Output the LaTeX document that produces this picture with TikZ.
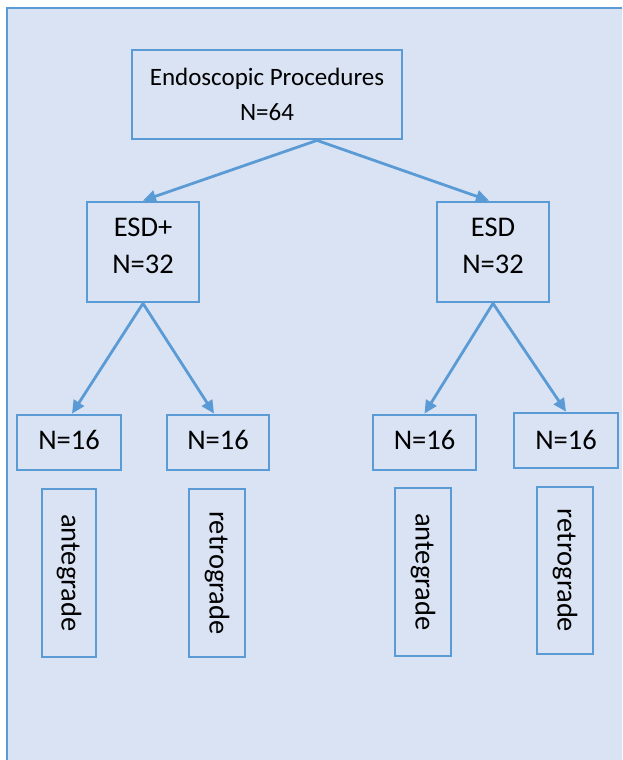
\documentclass[tikz,border=0pt]{standalone}
\usepackage{fontspec}
\setmainfont{Carlito}
\usetikzlibrary{arrows.meta,calc}
\definecolor{edgeblue}{RGB}{91,155,213}
\definecolor{panelbg}{RGB}{218,227,243}
\newcommand{\twolines}[3]{\raisebox{#1}[0pt][0pt]{\begin{tabular}{@{}c@{}}#2\\#3\end{tabular}}}
\newcommand{\oneline}[2]{\raisebox{#1}[0pt][0pt]{#2}}
\begin{document}
\begin{tikzpicture}[x=1pt,y=-1pt,
  box/.style={draw=edgeblue,line width=2.8pt,inner sep=0pt,align=center,
    font=\fontsize{28.5}{37}\selectfont,text=black},
  vbox/.style={box,rotate=-90,minimum height=55pt,minimum width=168pt},
  link/.style={draw=edgeblue,line width=2.8pt,-{Triangle[length=13pt,width=12pt]}}]
\useasboundingbox (0,0) rectangle (622,760);
\fill[white] (0,0) rectangle (622,760);
\begin{scope}
\clip (0,0) rectangle (622,760);
\fill[panelbg] (7,8) rectangle (640,780);
\end{scope}
\draw[edgeblue,line width=2.4pt] (622,8) -- (7,8) -- (7,760);
\node[box,minimum width=270pt,minimum height=89pt,font=\fontsize{25}{35}\selectfont] (top) at (267,94.5) {Endoscopic Procedures\\N=64};
\node[box,minimum width=112pt,minimum height=100pt] (esdp) at (143,252) {\twolines{-2pt}{ESD+}{N=32}};
\node[box,minimum width=112pt,minimum height=100pt] (esd) at (493,252) {\twolines{-2pt}{ESD}{N=32}};
\node[box,minimum width=104pt,minimum height=55pt] (n1) at (69,442.5) {\oneline{-7.2pt}{N=16}};
\node[box,minimum width=102pt,minimum height=55pt] (n2) at (218,442.5) {\oneline{-7.2pt}{N=16}};
\node[box,minimum width=103pt,minimum height=55pt] (n3) at (424.5,442.5) {\oneline{-7.2pt}{N=16}};
\node[box,minimum width=104pt,minimum height=55pt] (n4) at (566,440.5) {\oneline{-8.7pt}{N=16}};
\node[vbox,minimum height=54pt] (v1) at (69,573) {antegrade};
\node[vbox,minimum height=56pt] (v2) at (217,573) {retrograde};
\node[vbox,minimum height=56pt] (v3) at (423,572) {antegrade};
\node[vbox,minimum height=56pt,minimum width=167pt] (v4) at (565,570.5) {retrograde};
\coordinate (split) at ($(top.south)+(50,0)$);
\draw[link] (split) -- (esdp.north);
\draw[link] (split) -- ($(esd.north)+(-4,0)$);
\draw[link] (esdp.south) -- ($(n1.north)+(3,0)$);
\draw[link] (esdp.south) -- ($(n2.north)+(-4,0)$);
\draw[link] (esd.south) -- (n3.north);
\draw[link] (esd.south) -- (n4.north);
\end{tikzpicture}
\end{document}
